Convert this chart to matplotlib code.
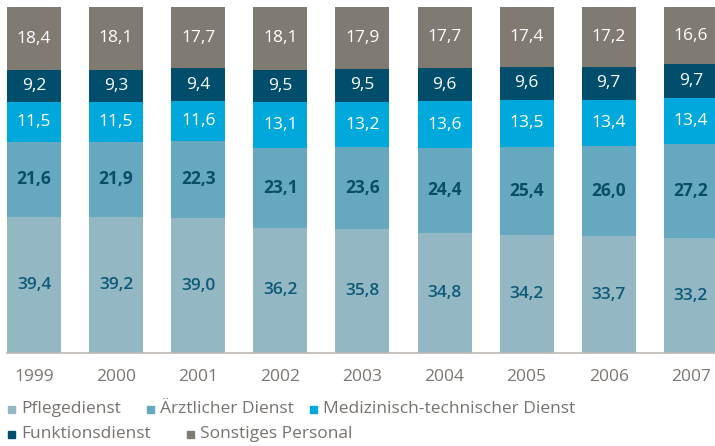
import matplotlib
matplotlib.use("Agg")
import matplotlib.pyplot as plt
from matplotlib.patches import Rectangle

years = ["1999", "2000", "2001", "2002", "2003", "2004", "2005", "2006", "2007"]
pflege = [39.4, 39.2, 39.0, 36.2, 35.8, 34.8, 34.2, 33.7, 33.2]
aerzt = [21.6, 21.9, 22.3, 23.1, 23.6, 24.4, 25.4, 26.0, 27.2]
medtech = [11.5, 11.5, 11.6, 13.1, 13.2, 13.6, 13.5, 13.4, 13.4]
funktion = [9.2, 9.3, 9.4, 9.5, 9.5, 9.6, 9.6, 9.7, 9.7]
sonst = [18.4, 18.1, 17.7, 18.1, 17.9, 17.7, 17.4, 17.2, 16.6]
series_names = ["Pflegedienst", "Ärztlicher Dienst", "Medizinisch-technischer Dienst",
                "Funktionsdienst", "Sonstiges Personal"]

colors = ["#93b8c3", "#66a8c0", "#00a8dc", "#004e6c", "#7f7b73"]
label_colors = ["#0d5a78", "#0a4d68", "white", "white", "white"]
label_weights = ["semibold", "bold", "medium", "medium", "medium"]

plt.rcParams['font.family'] = ['Open Sans', 'DejaVu Sans']

W, H = 715, 446
fig = plt.figure(figsize=(W / 100, H / 100), dpi=100)
ax = fig.add_axes([0, (H - 353) / H, 1, 346 / H])

px_per_unit = 82.1
x0 = 34
ax.set_xlim(-x0 / px_per_unit, (W - x0) / px_per_unit)
ax.set_ylim(0, 100)

x = list(range(len(years)))
data = [pflege, aerzt, medtech, funktion, sonst]
bottom = [0.0] * len(years)
bw = 54 / px_per_unit
for vals, c, lc, lw in zip(data, colors, label_colors, label_weights):
    ax.bar(x, vals, bottom=bottom, width=bw, color=c, edgecolor='none')
    for i, v in enumerate(vals):
        top = min(bottom[i] + v, 100)
        yc = (bottom[i] + top) / 2
        ax.text(i, yc, f"{v:.1f}".replace('.', ','),
                ha='center', va='center', color=lc, fontsize=12.5, fontweight=lw)
    bottom = [b + v for b, v in zip(bottom, vals)]

for s in ax.spines.values():
    s.set_visible(False)
ax.set_yticks([])
ax.set_xticks([])
ax.axhline(0, xmin=(7 / W), xmax=1, color='#bdb8b3', lw=1.2, clip_on=False)

for i, yr in enumerate(years):
    ax.text(i, -7, yr, ha='center', va='center', color='#7a7570', fontsize=12.5,
            fontweight='medium', clip_on=False)

# legend
legend_pos = [(8, 409), (147, 409), (310, 409), (8, 434), (187, 434)]
for (lx, ly), name, c in zip(legend_pos, series_names, colors):
    fig.patches.append(Rectangle((lx / W, (H - ly - 3.5) / H), 7 / W, 7 / H,
                                 transform=fig.transFigure, color=c, figure=fig))
    fig.text((lx + 13) / W, (H - ly) / H, name, ha='left', va='center',
             color='#77726d', fontsize=12.5, fontweight='medium')

fig.savefig("out.png", dpi=100)
